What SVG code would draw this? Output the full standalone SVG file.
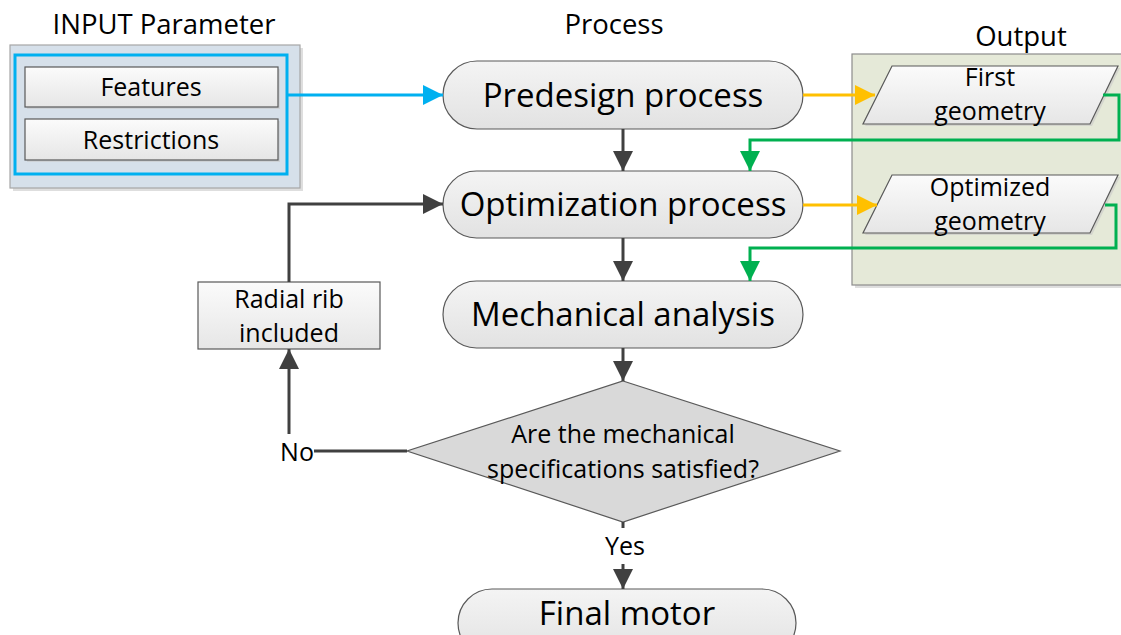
<svg xmlns="http://www.w3.org/2000/svg" width="1121" height="635" viewBox="0 0 1121 635">
<style>
text{font-family:"Open Sans","Noto Sans",sans-serif;fill:#000;text-anchor:middle}
.t24{font-size:25px}
.t34{font-size:33px}
.title{font-size:27.5px}
.dark{stroke:#404040;stroke-width:3;fill:none}
.green{stroke:#00b050;stroke-width:3;fill:none}
.orange{stroke:#ffc000;stroke-width:3;fill:none}
.blue{stroke:#00b0f0;stroke-width:3;fill:none}
.pill{fill:url(#gPill);stroke:#595959;stroke-width:1.2}
.box{fill:url(#gBox);stroke:#595959;stroke-width:1.2}
.shadow{fill:#c8c8c8;opacity:0.6}
</style>
<defs>
<linearGradient id="gPill" x1="0" y1="0" x2="0" y2="1"><stop offset="0" stop-color="#f4f4f4"/><stop offset="1" stop-color="#e2e2e2"/></linearGradient>
<linearGradient id="gBox" x1="0" y1="0" x2="0" y2="1"><stop offset="0" stop-color="#fbfbfb"/><stop offset="1" stop-color="#e6e6e6"/></linearGradient>
<marker id="aD" viewBox="0 0 20 20" refX="20" refY="10" markerWidth="20" markerHeight="20" markerUnits="userSpaceOnUse" orient="auto"><path d="M0,0 L20,10 L0,20 z" fill="#404040"/></marker>
<marker id="aG" viewBox="0 0 20 20" refX="20" refY="10" markerWidth="20" markerHeight="20" markerUnits="userSpaceOnUse" orient="auto"><path d="M0,0 L20,10 L0,20 z" fill="#00b050"/></marker>
<marker id="aO" viewBox="0 0 20 20" refX="20" refY="10" markerWidth="20" markerHeight="20" markerUnits="userSpaceOnUse" orient="auto"><path d="M0,0 L20,10 L0,20 z" fill="#ffc000"/></marker>
<marker id="aB" viewBox="0 0 20 20" refX="20" refY="10" markerWidth="20" markerHeight="20" markerUnits="userSpaceOnUse" orient="auto"><path d="M0,0 L20,10 L0,20 z" fill="#00b0f0"/></marker>
</defs>
<rect width="1121" height="635" fill="#fff"/>

<text class="title" x="164" y="34">INPUT Parameter</text>
<text class="title" x="614" y="34">Process</text>
<text class="title" x="1021" y="46">Output</text>

<g id="input">
<rect class="shadow" x="13" y="48" width="290" height="143"/>
<rect x="10" y="45" width="290" height="143" fill="#d6e0ea" stroke="#a6a6a6" stroke-width="1.2"/>
<rect x="15" y="55" width="272" height="119" fill="none" stroke="#00b0f0" stroke-width="3"/>
<rect class="shadow" x="27" y="69" width="253" height="40"/>
<rect class="box" x="25" y="67" width="253" height="40"/>
<text class="t24" x="151" y="96">Features</text>
<rect class="shadow" x="27" y="121" width="253" height="41"/>
<rect class="box" x="25" y="119" width="253" height="41"/>
<text class="t24" x="151" y="149">Restrictions</text>
</g>

<g id="output">
<rect class="shadow" x="855" y="57" width="270" height="231"/>
<rect x="852" y="54" width="275" height="231" fill="#e5e9d8" stroke="#8c8c8c" stroke-width="1.2"/>
<g id="first-geometry">
<polygon class="shadow" points="894,68 1120,68 1092,126 865,126"/>
<polygon class="box" points="892,66 1118,66 1090,124 863,124"/>
<text class="t24" x="990" y="86">First</text>
<text class="t24" x="990" y="120">geometry</text>
</g>
<g id="optimized-geometry">
<polygon class="shadow" points="894,177 1120,177 1092,235 865,235"/>
<polygon class="box" points="892,175 1118,175 1090,233 863,233"/>
<text class="t24" x="990" y="196">Optimized</text>
<text class="t24" x="990" y="230">geometry</text>
</g>
</g>

<g id="predesign">
<rect class="pill" x="443" y="61" width="360" height="68" rx="34"/>
<text class="t34" x="623" y="107">Predesign process</text>
</g>
<g id="optimization">
<rect class="pill" x="443" y="171" width="360" height="67" rx="33.5"/>
<text class="t34" x="623" y="216">Optimization process</text>
</g>
<g id="mechanical">
<rect class="pill" x="443" y="281" width="360" height="67" rx="33.5"/>
<text class="t34" x="623" y="326">Mechanical analysis</text>
</g>
<g id="decision">
<polygon points="623,381 840,451 623,522 407,451" fill="#d9d9d9" stroke="#595959" stroke-width="1.2"/>
<text class="t24" x="623" y="443">Are the mechanical</text>
<text class="t24" x="623" y="478">specifications satisfied?</text>
</g>
<g id="radial-rib">
<rect class="box" x="198" y="282" width="182" height="67"/>
<text class="t24" x="289" y="308">Radial rib</text>
<text class="t24" x="289" y="342">included</text>
</g>
<g id="final">
<rect class="pill" x="458" y="589" width="338" height="68" rx="34"/>
<text class="t34" x="627" y="625">Final motor</text>
</g>

<g id="connectors">
<path class="blue" d="M287,95 H443" marker-end="url(#aB)"/>
<path class="orange" d="M803,95 H875" marker-end="url(#aO)"/>
<path class="orange" d="M803,205 H877" marker-end="url(#aO)"/>
<path class="green" d="M1103,95 H1119 V140 H750 V171" marker-end="url(#aG)"/>
<path class="green" d="M1105,205 H1116 V248 H750 V281" marker-end="url(#aG)"/>
<path class="dark" d="M623,129 V171" marker-end="url(#aD)"/>
<path class="dark" d="M623,238 V281" marker-end="url(#aD)"/>
<path class="dark" d="M623,348 V381" marker-end="url(#aD)"/>
<path class="dark" d="M623,522 V528"/>
<path class="dark" d="M623,564 V589" marker-end="url(#aD)"/>
<text class="t24" x="625" y="555">Yes</text>
<path class="dark" d="M314,451 H407"/>
<text class="t24" x="297" y="461">No</text>
<path class="dark" d="M289,434 V349" marker-end="url(#aD)"/>
<path class="dark" d="M289,282 V204 H443" marker-end="url(#aD)"/>
</g>
</svg>
